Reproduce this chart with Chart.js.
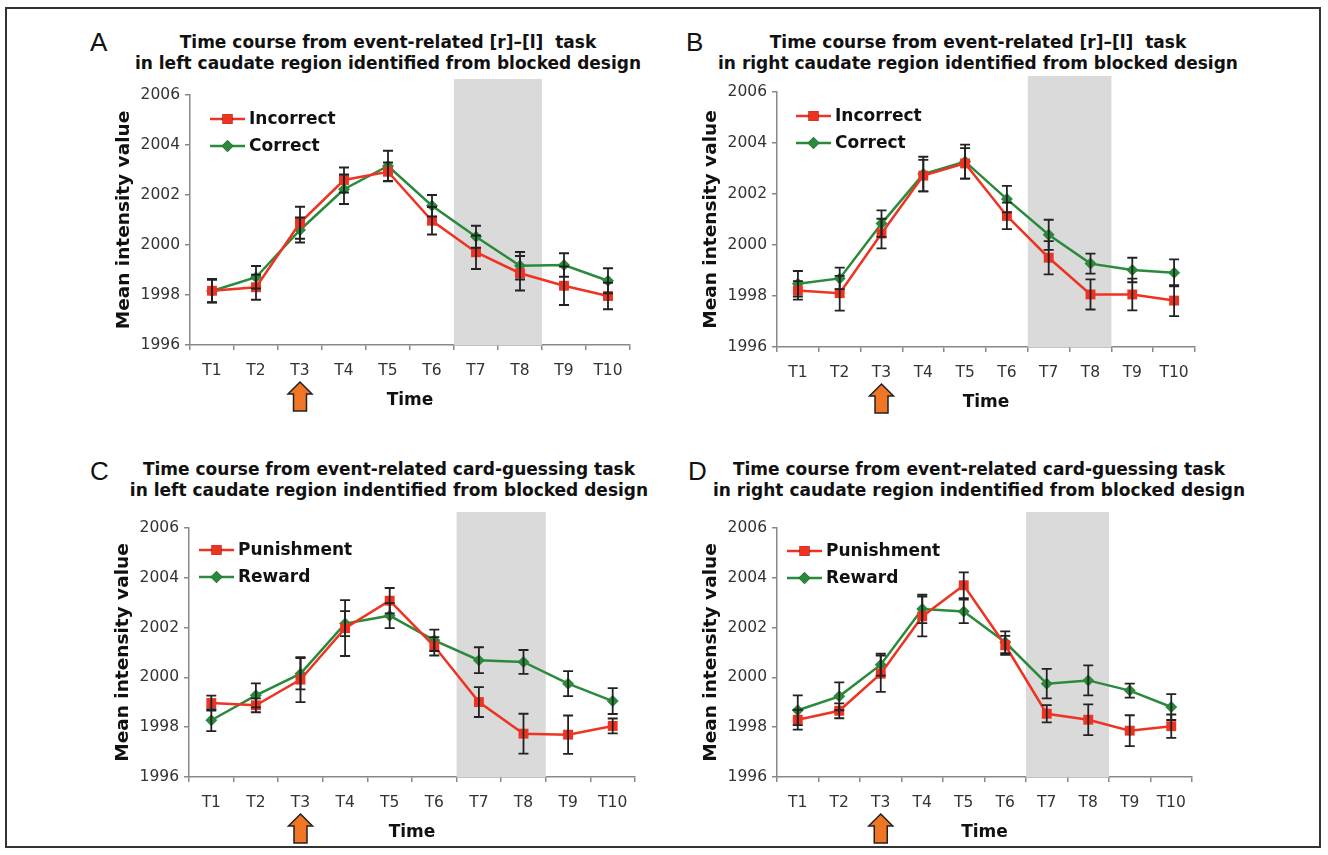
<!DOCTYPE html>
<html>
<head>
<meta charset="utf-8">
<script src="https://cdn.jsdelivr.net/npm/chart.js@4.4.0/dist/chart.umd.min.js"></script>
<style>
  body { margin: 0; background: #fff; width: 1328px; height: 855px; position: relative; overflow: hidden; font-family: "DejaVu Sans", sans-serif; }
  .marco { position: absolute; left: 5px; top: 7px; width: 1316px; height: 841px; border: 2px solid #333; box-sizing: border-box; }
  .panel { position: absolute; }
  .letra { position: absolute; font-family: "Liberation Sans", Arial, sans-serif; font-size: 26px; color: #111; line-height: 26px; }
  .titulo { position: absolute; width: 600px; text-align: center; font-weight: bold; font-size: 17px; line-height: 21px; color: #111; white-space: nowrap; }
</style>
</head>
<body>
<div class="marco"></div>

<div class="letra" style="left:90px;top:29px">A</div>
<div class="titulo" style="left:88px;top:32px">Time course from event-related [r]–[l]&nbsp; task<br>in left caudate region identified from blocked design</div>
<div class="letra" style="left:686px;top:29px">B</div>
<div class="titulo" style="left:678px;top:32px">Time course from event-related [r]–[l]&nbsp; task<br>in right caudate region identified from blocked design</div>
<div class="letra" style="left:90px;top:458px">C</div>
<div class="titulo" style="left:89px;top:459px">Time course from event-related card-guessing task<br>in left caudate region indentified from blocked design</div>
<div class="letra" style="left:688px;top:458px">D</div>
<div class="titulo" style="left:679px;top:459px">Time course from event-related card-guessing task<br>in right caudate region indentified from blocked design</div>

<div class="panel" id="panelA" style="left:100px;top:60px;width:560px;height:360px"><canvas id="graficoA"></canvas></div>
<div class="panel" id="panelB" style="left:687px;top:60px;width:538px;height:362px"><canvas id="graficoB"></canvas></div>
<div class="panel" id="panelC" style="left:99px;top:495px;width:566px;height:357px"><canvas id="graficoC"></canvas></div>
<div class="panel" id="panelD" style="left:687px;top:495px;width:535px;height:357px"><canvas id="graficoD"></canvas></div>

<script>
const categorias = ["T1", "T2", "T3", "T4", "T5", "T6", "T7", "T8", "T9", "T10"];
const ticksY = [1996, 1998, 2000, 2002, 2004, 2006];

// A: [r]-[l], caudado izquierdo
const incorrectoA = [1998.17, 1998.31, 2000.89, 2002.60, 2002.93, 2000.97, 1999.71, 1998.87, 1998.37, 1997.96];
const incorrectoAErr = [0.47, 0.50, 0.64, 0.50, 0.37, 0.55, 0.67, 0.69, 0.77, 0.53];
const correctoA = [1998.16, 1998.71, 2000.60, 2002.23, 2003.16, 2001.57, 2000.33, 1999.17, 1999.20, 1998.57];
const correctoAErr = [0.45, 0.45, 0.50, 0.59, 0.61, 0.43, 0.44, 0.55, 0.47, 0.50];

// B: [r]-[l], caudado derecho
const incorrectoB = [1998.22, 1998.11, 2000.45, 2002.72, 2003.20, 2001.14, 1999.50, 1998.06, 1998.06, 1997.82];
const incorrectoBErr = [0.36, 0.68, 0.58, 0.62, 0.60, 0.52, 0.65, 0.59, 0.62, 0.61];
const correctoB = [1998.48, 1998.69, 2000.84, 2002.78, 2003.27, 2001.80, 2000.40, 1999.27, 1999.02, 1998.91];
const correctoBErr = [0.50, 0.42, 0.52, 0.68, 0.67, 0.52, 0.59, 0.39, 0.48, 0.53];

// C: cartas, caudado izquierdo
const castigoC = [1998.97, 1998.88, 1999.91, 2001.98, 2003.08, 2001.25, 1999.01, 1997.74, 1997.70, 1998.05];
const castigoCErr = [0.30, 0.28, 0.90, 1.12, 0.51, 0.37, 0.60, 0.80, 0.77, 0.30];
const premioC = [1998.28, 1999.28, 2000.15, 2002.16, 2002.48, 2001.49, 2000.69, 2000.62, 1999.75, 1999.05];
const premioCErr = [0.44, 0.48, 0.63, 0.50, 0.50, 0.43, 0.52, 0.48, 0.50, 0.52];

// D: cartas, caudado derecho
const castigoD = [1998.30, 1998.66, 2000.15, 2002.45, 2003.70, 2001.29, 1998.54, 1998.30, 1997.86, 1998.04];
const castigoDErr = [0.40, 0.30, 0.73, 0.80, 0.52, 0.38, 0.35, 0.62, 0.62, 0.47];
const premioD = [1998.68, 1999.24, 2000.51, 2002.75, 2002.65, 2001.41, 1999.75, 1999.88, 1999.47, 1998.81];
const premioDErr = [0.60, 0.56, 0.44, 0.57, 0.47, 0.44, 0.59, 0.60, 0.28, 0.52];

// franja gris T7-T8 y flecha en T3
const franjaDesde = 6, franjaHasta = 7;
const flechaEn = 2;

const ROJO = "#ee3322";
const VERDE = "#2a8a3c";

// franja gris detras de las lineas
const pluginFranja = {
  id: "franja",
  beforeDatasetsDraw(chart) {
    const { ctx, chartArea, scales } = chart;
    const x = scales.x;
    const paso = x.getPixelForValue(1) - x.getPixelForValue(0);
    const x0 = x.getPixelForValue(franjaDesde) - paso / 2;
    const x1 = x.getPixelForValue(franjaHasta) + paso / 2;
    ctx.save();
    ctx.fillStyle = "#dadada";
    ctx.fillRect(x0, chartArea.top - 16, x1 - x0, chartArea.bottom - chartArea.top + 16);
    ctx.restore();
  }
};

// barras de error, leyenda interna y flecha
const pluginExtras = {
  id: "extras",
  afterDatasetsDraw(chart) {
    const { ctx, scales } = chart;
    ctx.save();
    ctx.strokeStyle = "#222";
    ctx.lineWidth = 1.8;
    chart.data.datasets.forEach(ds => {
      ds.data.forEach((v, i) => {
        const e = ds.errores[i];
        const px = scales.x.getPixelForValue(i);
        const yArr = scales.y.getPixelForValue(v + e);
        const yAba = scales.y.getPixelForValue(v - e);
        ctx.beginPath();
        ctx.moveTo(px, yArr); ctx.lineTo(px, yAba);
        ctx.moveTo(px - 5, yArr); ctx.lineTo(px + 5, yArr);
        ctx.moveTo(px - 5, yAba); ctx.lineTo(px + 5, yAba);
        ctx.stroke();
      });
    });
    ctx.restore();
  },
  afterDraw(chart, args, opts) {
    const { ctx, chartArea, scales } = chart;
    ctx.save();
    // leyenda
    chart.data.datasets.forEach((ds, i) => {
      const y = chartArea.top + opts.leyendaY + i * 27;
      const x0 = chartArea.left + opts.leyendaX;
      ctx.strokeStyle = ds.borderColor;
      ctx.lineWidth = 2.5;
      ctx.beginPath();
      ctx.moveTo(x0, y); ctx.lineTo(x0 + 35, y);
      ctx.stroke();
      Chart.helpers.drawPoint(ctx, { pointStyle: ds.pointStyle, radius: ds.pointRadius, borderWidth: 0 }, x0 + 17.5, y);
      ctx.fillStyle = ds.borderColor;
      ctx.fill();
      ctx.fillStyle = "#111";
      ctx.font = "bold 17px 'DejaVu Sans'";
      ctx.textBaseline = "middle";
      ctx.fillText(ds.label, x0 + 39, y + 1);
    });
    // flecha naranja bajo T3
    const fx = scales.x.getPixelForValue(flechaEn);
    const fy = chartArea.bottom + 37;
    ctx.beginPath();
    ctx.moveTo(fx, fy);
    ctx.lineTo(fx + 12, fy + 12);
    ctx.lineTo(fx + 6.5, fy + 12);
    ctx.lineTo(fx + 6.5, fy + 29);
    ctx.lineTo(fx - 6.5, fy + 29);
    ctx.lineTo(fx - 6.5, fy + 12);
    ctx.lineTo(fx - 12, fy + 12);
    ctx.closePath();
    ctx.fillStyle = "#f07525";
    ctx.fill();
    ctx.strokeStyle = "#222";
    ctx.lineWidth = 1.5;
    ctx.stroke();
    ctx.restore();
  }
};

function serie(label, datos, errores, color, estilo, radio) {
  return {
    label, data: datos, errores,
    borderColor: color, backgroundColor: color,
    borderWidth: 2.5, pointStyle: estilo, pointRadius: radio, pointBorderWidth: 0,
    pointBackgroundColor: color, tension: 0
  };
}

function crearPanel(idCanvas, series, cfg) {
  const ctx = document.getElementById(idCanvas).getContext("2d");
  new Chart(ctx, {
    type: "line",
    data: { labels: categorias, datasets: series },
    options: {
      responsive: true,
      maintainAspectRatio: false,
      animation: false,
      layout: { padding: { top: cfg.arriba, right: 30, left: 0, bottom: 0 } },
      plugins: {
        legend: { display: false },
        tooltip: { enabled: false },
        extras: { leyendaX: cfg.leyX, leyendaY: cfg.leyY }
      },
      scales: {
        x: {
          offset: true,
          afterFit: s => { s.height = 75; },
          grid: { offset: true, drawOnChartArea: false, drawTicks: true, tickLength: 5, color: "#888", lineWidth: 1.5 },
          border: { color: "#888", width: 1.5 },
          ticks: { color: "#333", font: { family: "DejaVu Sans", size: 15.5 }, padding: 12, maxRotation: 0 },
          title: { display: true, text: "Time", color: "#111", font: { family: "DejaVu Sans", size: 17, weight: "bold" }, padding: { top: 0, bottom: 9 } }
        },
        y: {
          min: 1996, max: 2006,
          afterFit: s => { s.width = 90; },
          afterBuildTicks: s => { s.ticks = ticksY.map(v => ({ value: v })); },
          grid: { drawOnChartArea: false, drawTicks: true, tickLength: 5, color: "#888", lineWidth: 1.5 },
          border: { color: "#888", width: 1.5 },
          ticks: { color: "#333", font: { family: "DejaVu Sans", size: 15.5 }, padding: 5, callback: v => String(v) },
          title: { display: true, text: "Mean intensity value", color: "#111", font: { family: "DejaVu Sans", size: 18.5, weight: "bold" }, padding: { top: 13, bottom: 0 } }
        }
      }
    },
    plugins: [pluginFranja, pluginExtras]
  });
}

crearPanel("graficoA", [
  serie("Incorrect", incorrectoA, incorrectoAErr, ROJO, "rect", 7),
  serie("Correct", correctoA, correctoAErr, VERDE, "rectRot", 6)
], { arriba: 35, leyX: 20, leyY: 24 });

crearPanel("graficoB", [
  serie("Incorrect", incorrectoB, incorrectoBErr, ROJO, "rect", 7),
  serie("Correct", correctoB, correctoBErr, VERDE, "rectRot", 6)
], { arriba: 32, leyX: 19, leyY: 24 });

crearPanel("graficoC", [
  serie("Punishment", castigoC, castigoCErr, ROJO, "rect", 7),
  serie("Reward", premioC, premioCErr, VERDE, "rectRot", 6)
], { arriba: 33, leyX: 10, leyY: 22 });

crearPanel("graficoD", [
  serie("Punishment", castigoD, castigoDErr, ROJO, "rect", 7),
  serie("Reward", premioD, premioDErr, VERDE, "rectRot", 6)
], { arriba: 33, leyX: 10, leyY: 23 });
</script>
</body>
</html>
